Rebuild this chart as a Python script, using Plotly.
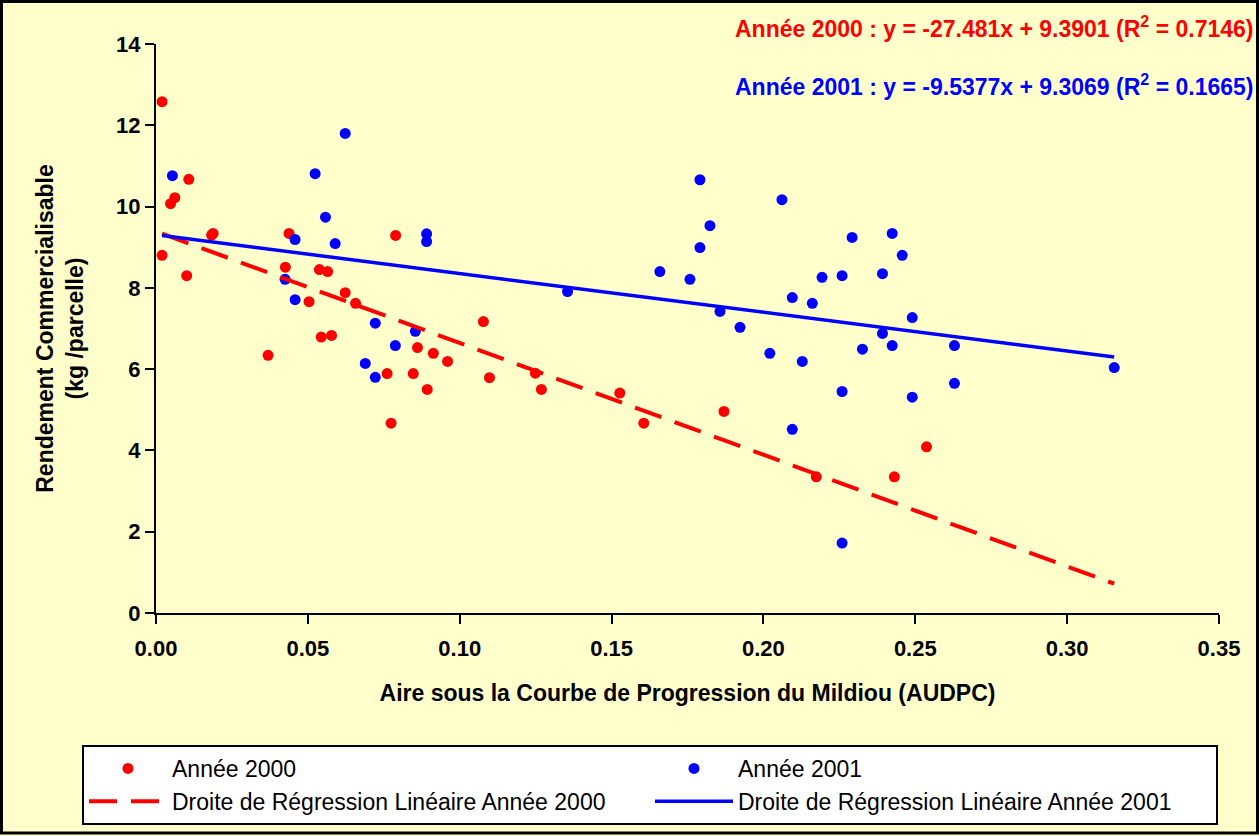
import plotly.graph_objects as go

# ---- data ----
x2000 = [0.002, 0.002, 0.0048, 0.0062, 0.0101, 0.0108, 0.0183, 0.0188, 0.0369, 0.0426,
         0.0438, 0.0504, 0.0538, 0.0544, 0.0565, 0.0578, 0.0623, 0.0657, 0.0761, 0.0774,
         0.0789, 0.0847, 0.0861, 0.0893, 0.0913, 0.0960, 0.1078, 0.1098, 0.1249, 0.1269,
         0.1527, 0.1606, 0.1870, 0.2174, 0.2431, 0.2537]
y2000 = [12.58, 8.80, 10.07, 10.22, 8.30, 10.67, 9.30, 9.34, 6.34, 8.51,
         9.34, 7.66, 8.45, 6.79, 8.40, 6.83, 7.88, 7.62, 5.89, 4.67,
         9.29, 5.89, 6.53, 5.50, 6.39, 6.19, 7.17, 5.79, 5.90, 5.50,
         5.41, 4.67, 4.96, 3.35, 3.35, 4.09]

x2001 = [0.0054, 0.0425, 0.0458, 0.0458, 0.0524, 0.0558, 0.0590, 0.0623, 0.0689, 0.0722,
         0.0722, 0.0788, 0.0854, 0.0891, 0.0891, 0.1355, 0.1659, 0.1758, 0.1791, 0.1791,
         0.1824, 0.1857, 0.1923, 0.2021, 0.2061, 0.2095, 0.2095, 0.2128, 0.2161, 0.2193,
         0.2259, 0.2259, 0.2259, 0.2292, 0.2326, 0.2392, 0.2392, 0.2424, 0.2424, 0.2457,
         0.2490, 0.2490, 0.2629, 0.2629, 0.3155]
y2001 = [10.76, 8.21, 9.19, 7.71, 10.81, 9.74, 9.09, 11.80, 6.14, 7.13,
         5.80, 6.58, 6.93, 9.33, 9.14, 7.91, 8.40, 8.21, 10.66, 8.99,
         9.53, 7.42, 7.03, 6.39, 10.17, 7.76, 4.52, 6.19, 7.62, 8.26,
         8.30, 5.45, 1.72, 9.24, 6.49, 8.35, 6.88, 9.34, 6.58, 8.80,
         7.27, 5.31, 6.58, 5.65, 6.04]

# regression coefficients shown on the chart
slope2000, intercept2000, r2_2000 = -27.481, 9.3901, 0.7146
slope2001, intercept2001, r2_2001 = -9.5377, 9.3069, 0.1665
reg_x = [0.002, 0.3155]

series_names = ["Année 2000", "Année 2001",
                "Droite de Régression Linéaire Année 2000",
                "Droite de Régression Linéaire Année 2001"]
x_ticks = [0.00, 0.05, 0.10, 0.15, 0.20, 0.25, 0.30, 0.35]
y_ticks = [0, 2, 4, 6, 8, 10, 12, 14]

RED = "#FF0000"
BLUE = "#0000FF"
BG = "#FFFFCC"
FONT = "Liberation Sans"

W, H = 1259, 836
ML, MR, MT, MB = 156, 40, 44, 222
PW, PH = W - ML - MR, H - MT - MB


def px_x(p):
    return (p - ML) / PW


def px_y(p):
    return (H - MB - p) / PH


fig = go.Figure()
fig.add_trace(go.Scatter(x=x2000, y=y2000, mode="markers", name=series_names[0],
                         marker=dict(color=RED, size=11)))
fig.add_trace(go.Scatter(x=x2001, y=y2001, mode="markers", name=series_names[1],
                         marker=dict(color=BLUE, size=11)))
fig.add_trace(go.Scatter(x=reg_x, y=[slope2000 * v + intercept2000 for v in reg_x],
                         mode="lines", name=series_names[2],
                         line=dict(color=RED, width=4, dash="28px,14px")))
fig.add_trace(go.Scatter(x=reg_x, y=[slope2001 * v + intercept2001 for v in reg_x],
                         mode="lines", name=series_names[3],
                         line=dict(color=BLUE, width=3.5)))

tick_font = dict(family=FONT, size=22, color="black", weight="bold")
title_font = dict(family=FONT, size=23, color="black", weight="bold")

fig.update_xaxes(range=[0, 0.35], tickvals=x_ticks, tickformat=".2f",
                 showgrid=False, zeroline=False, showline=True, linecolor="black",
                 linewidth=2, ticks="outside", ticklen=9, tickwidth=2, tickcolor="black",
                 tickfont=tick_font, ticklabelstandoff=6,
                 title=dict(text="Aire sous la Courbe de Progression du Mildiou (AUDPC)",
                            font=title_font, standoff=24))
fig.update_yaxes(range=[0, 14], tickvals=y_ticks,
                 showgrid=False, zeroline=False, showline=True, linecolor="black",
                 linewidth=2, ticks="outside", ticklen=9, tickwidth=2, tickcolor="black",
                 tickfont=tick_font,
                 title=dict(text="Rendement Commercialisable<br>(kg /parcelle)",
                            font=title_font, standoff=26))

ann_font = dict(family=FONT, size=23, weight="bold")
fig.add_annotation(xref="paper", yref="paper", x=px_x(1255), y=px_y(27),
                   xanchor="right", yanchor="middle", showarrow=False,
                   text=f"Année 2000 : y = {slope2000}x + {intercept2000} (R<sup>2</sup> = {r2_2000})",
                   font=dict(color=RED, **ann_font))
fig.add_annotation(xref="paper", yref="paper", x=px_x(1255), y=px_y(85),
                   xanchor="right", yanchor="middle", showarrow=False,
                   text=f"Année 2001 : y = {slope2001}x + {intercept2001} (R<sup>2</sup> = {r2_2001})",
                   font=dict(color=BLUE, **ann_font))

# outer frame of the chart
fig.add_shape(type="rect", xref="paper", yref="paper", layer="above",
              x0=px_x(1.5), x1=px_x(W - 1.5), y0=px_y(H - 1.5), y1=px_y(1.5),
              line=dict(color="black", width=3), fillcolor="rgba(0,0,0,0)")

fig.update_layout(
    width=W, height=H,
    margin=dict(l=ML, r=MR, t=MT, b=MB),
    paper_bgcolor=BG, plot_bgcolor=BG,
    showlegend=True,
    legend=dict(orientation="h", x=px_x(82), y=px_y(745), xanchor="left", yanchor="top",
                bgcolor="white", bordercolor="black", borderwidth=2,
                entrywidth=473, entrywidthmode="pixels", itemwidth=78,
                font=dict(family=FONT, size=23, color="black")),
)

fig.write_html("out.html",
               config={"displayModeBar": False},
               post_script="document.body.style.margin='0';document.body.style.padding='0';"
                           "document.documentElement.style.overflow='hidden';")
